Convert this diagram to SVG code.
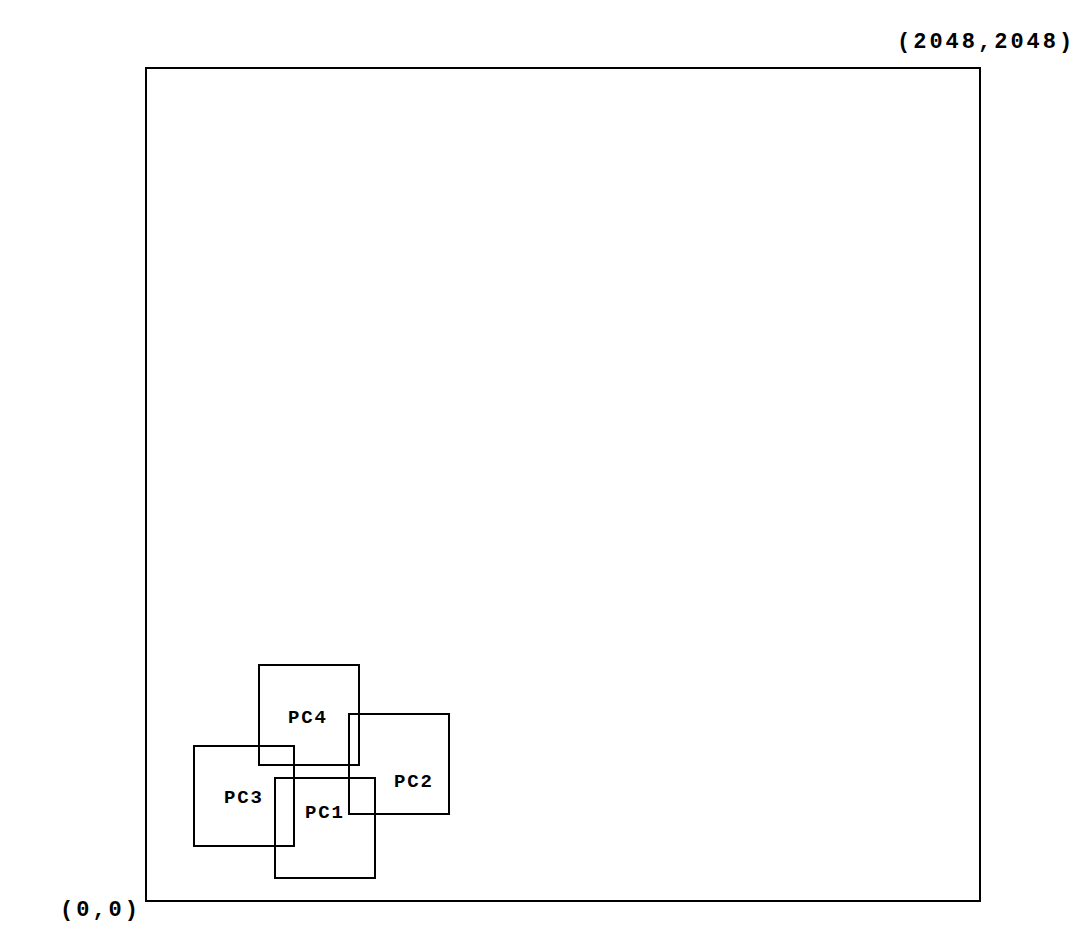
<svg xmlns="http://www.w3.org/2000/svg" width="1082" height="943" viewBox="0 0 1082 943">
<style>
rect{fill:none;stroke:#000;stroke-width:2}
text{font-family:"Liberation Mono","Courier New",monospace;font-weight:bold;fill:#000}
.c{font-size:22px;letter-spacing:3px}
.p{font-size:19px;letter-spacing:1.9px}
</style>
<rect fill="#fff" style="fill:#fff;stroke:none" x="0" y="0" width="1082" height="943"/>
<g id="space">
<rect x="146" y="68" width="834" height="833"/>
<text class="c" x="897" y="48">(2048,2048)</text>
<text class="c" x="60" y="916">(0,0)</text>
</g>
<g id="PC4"><rect x="259" y="665" width="100" height="100"/><text class="p" x="288" y="723">PC4</text></g>
<g id="PC2"><rect x="349" y="714" width="100" height="100"/><text class="p" x="394" y="787">PC2</text></g>
<g id="PC3"><rect x="194" y="746" width="100" height="100"/><text class="p" x="224" y="803">PC3</text></g>
<g id="PC1"><rect x="275" y="778" width="100" height="100"/><text class="p" x="305" y="818">PC1</text></g>
<g id="connectors"/>
</svg>
